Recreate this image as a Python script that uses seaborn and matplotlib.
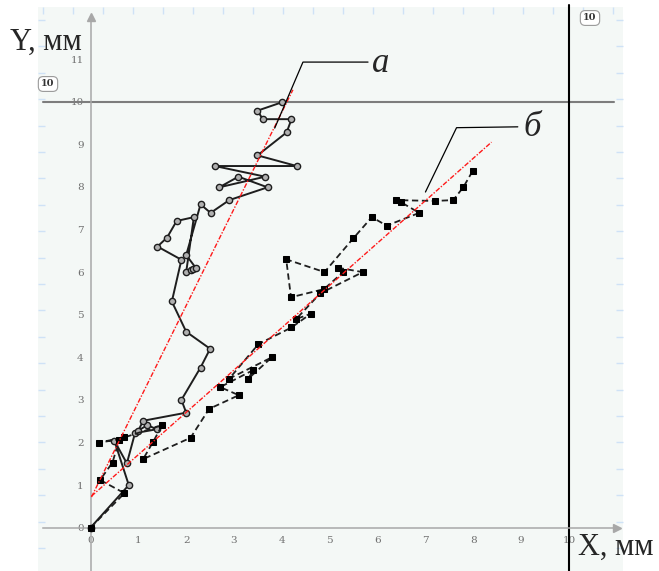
import numpy as np
import matplotlib
matplotlib.use("Agg")
import matplotlib.pyplot as plt
import seaborn as sns

# ---- data (mm) ----
a_x = [0.00, 0.80, 0.50, 0.76, 0.93, 1.38, 1.19, 1.00, 1.10, 2.00, 1.90, 2.30, 2.50, 2.00,
       1.70, 1.90, 1.40, 1.60, 1.80, 2.16, 2.00, 2.09, 2.15, 2.20, 2.00, 2.30, 2.51, 2.90,
       3.70, 3.09, 2.69, 3.65, 2.60, 4.31, 3.49, 4.10, 4.20, 3.60, 3.49, 4.01]
a_y = [0.00, 1.00, 2.04, 1.51, 2.22, 2.31, 2.41, 2.28, 2.51, 2.70, 3.00, 3.76, 4.20, 4.60,
       5.31, 6.29, 6.60, 6.81, 7.20, 7.29, 6.00, 6.05, 6.07, 6.10, 6.40, 7.59, 7.39, 7.69,
       7.99, 8.24, 7.99, 8.24, 8.49, 8.49, 8.74, 9.28, 9.59, 9.59, 9.79, 9.99]

b_x = [0.00, 0.71, 0.20, 0.46, 0.60, 0.18, 0.71, 1.50, 1.31, 1.10, 2.09, 2.48, 3.10, 2.71,
       3.40, 3.30, 3.79, 2.90, 3.51, 4.20, 4.60, 4.30, 4.80, 5.69, 5.18, 5.28, 4.88, 4.19,
       4.09, 4.89, 5.49, 5.88, 6.19, 6.87, 6.49, 6.38, 7.19, 7.58, 7.79, 7.99]
b_y = [0.00, 0.81, 1.12, 1.53, 2.07, 2.00, 2.12, 2.41, 2.02, 1.61, 2.11, 2.79, 3.11, 3.30,
       3.70, 3.50, 4.00, 3.50, 4.31, 4.70, 5.02, 4.90, 5.50, 6.00, 6.10, 6.00, 5.60, 5.41,
       6.30, 6.00, 6.79, 7.29, 7.09, 7.39, 7.64, 7.69, 7.67, 7.69, 7.99, 8.38]

fit_a_x = [0.02, 4.23]
fit_a_y = [0.72, 10.28]
fit_b_x = [0.02, 8.38]
fit_b_y = [0.74, 9.05]

x_ticks = list(range(0, 11))
y_ticks = list(range(0, 12))
series_labels = ["а", "б"]
marker_label = "10"

# ---- style ----
sns.set_style("white")
plt.rcParams["font.family"] = ["DejaVu Serif"]

W, H = 659, 571
fig = plt.figure(figsize=(W / 100, H / 100), dpi=100)

# pixel -> data mapping used for the frame
x0px, sx = 90.5, 47.85
y0px, sy = 527.7, 42.6
left_px, right_px, top_px, bot_px = 38, 623, 7, 571

# decorative frame with light-blue border ticks
bg = fig.add_axes([left_px / W, 0, (right_px - left_px) / W, (bot_px - top_px) / H])
bg.set_facecolor("#f4f8f6")
bg.set_xlim(left_px, right_px)
bg.set_ylim(bot_px, top_px)
for s in bg.spines.values():
    s.set_visible(False)
bg.set_xticks(np.arange(43, right_px, 30))
bg.set_yticks(np.arange(20, bot_px, 26.4))
bg.tick_params(axis="both", which="both", direction="in", length=5, width=1.0,
               color="#cfe2f6", labelleft=False, labelbottom=False,
               top=True, bottom=False, left=True, right=True)

ax = fig.add_axes(bg.get_position())
ax.patch.set_alpha(0)
ax.set_xlim((left_px - x0px) / sx, (right_px - x0px) / sx)
ax.set_ylim((y0px - bot_px) / sy, (y0px - top_px) / sy)

gray = "#a8a8a8"
ax.spines["top"].set_visible(False)
ax.spines["right"].set_visible(False)
ax.spines["left"].set_position(("data", 0))
ax.spines["bottom"].set_position(("data", 0))
ax.spines["left"].set_color(gray)
ax.spines["bottom"].set_color(gray)
ax.spines["left"].set_linewidth(1.1)
ax.spines["bottom"].set_linewidth(1.1)
ax.spines["left"].set_bounds(ax.get_ylim()[0], 11.95)
ax.spines["bottom"].set_bounds(-1.0, 11.0)
ax.plot([0], [11.98], marker="^", color=gray, ms=6, clip_on=False, zorder=2)
ax.plot([11.0], [0], marker=">", color=gray, ms=6, clip_on=False, zorder=2)

ax.set_xticks(x_ticks)
ax.set_yticks(y_ticks)
ax.set_xticklabels([str(t) for t in x_ticks])
ax.set_yticklabels([str(t) for t in y_ticks])
ax.tick_params(axis="both", direction="inout", length=6, width=0.8, color=gray,
               labelcolor="#707070", labelsize=7.5)
ax.tick_params(axis="x", pad=3)
ax.tick_params(axis="y", pad=2)

# reference lines at 10
ax.axhline(10, xmin=0.008, xmax=0.985, color="#7d7d7d", lw=1.5, zorder=1)
ax.plot([10, 10], [ax.get_ylim()[0], 12.27], color="black", lw=1.5, clip_on=False, zorder=1)

# trajectories
sns.lineplot(x=a_x, y=a_y, sort=False, estimator=None, ax=ax, color="#1e1e1e", lw=1.4,
             marker="o", markersize=4.5, markerfacecolor="#b0b0b0",
             markeredgecolor="#1e1e1e", markeredgewidth=1.0, zorder=3)
sns.lineplot(x=b_x, y=b_y, sort=False, estimator=None, ax=ax, color="#1e1e1e", lw=1.3,
             linestyle=(0, (3.5, 2)), marker="s", markersize=4.8,
             markerfacecolor="black", markeredgecolor="black", zorder=3)

# fitted lines
for fx, fy in [(fit_a_x, fit_a_y), (fit_b_x, fit_b_y)]:
    sns.lineplot(x=fx, y=fy, sort=False, estimator=None, ax=ax, color="#ff1a1a", lw=1.0,
                 linestyle=(0, (3.5, 1.2, 1, 1.2)), zorder=4)

# leader lines and labels
ax.plot([3.85, 4.44, 5.80], [9.38, 10.93, 10.93], color="black", lw=0.9, clip_on=False, zorder=5)
ax.plot([7.00, 7.65, 8.93], [7.88, 9.39, 9.41], color="black", lw=0.9, clip_on=False, zorder=5)
ax.text(6.07, 10.70, series_labels[0], fontsize=25, style="italic", family="Liberation Serif",
        ha="center", va="baseline")
ax.text(9.23, 9.19, series_labels[1], fontsize=25, style="italic", family="Liberation Serif",
        ha="center", va="baseline")

ax.set_xlabel("")
ax.set_ylabel("")

# axis titles
fig.text(10 / W, 1 - 50 / H, "Y, мм", fontsize=22, family="Liberation Serif",
         ha="left", va="baseline")
fig.text(578 / W, 1 - 555 / H, "X, мм", fontsize=22, family="Liberation Serif",
         ha="left", va="baseline")

# boxed marker labels
box = dict(boxstyle="round,pad=0.3,rounding_size=0.5", fc="white", ec="#9a9a9a", lw=0.8)
fig.text(48 / W, 1 - 84 / H, marker_label, fontsize=7, color="#333333", ha="center",
         va="center", fontweight="bold", bbox=box)
fig.text(590 / W, 1 - 18 / H, marker_label, fontsize=7, color="#333333", ha="center",
         va="center", fontweight="bold", bbox=box)

fig.savefig("out.png", dpi=100)
